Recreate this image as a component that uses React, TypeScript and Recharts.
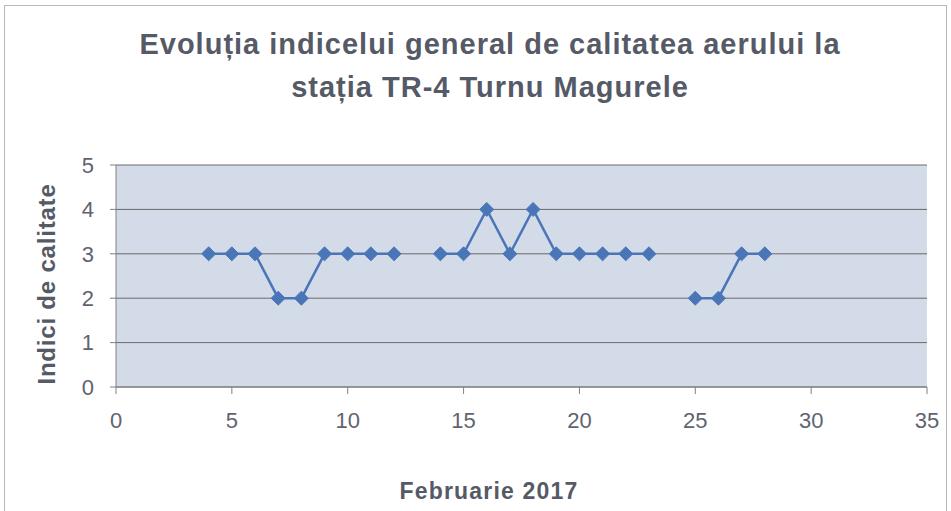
import { LineChart, Line, XAxis, YAxis, CartesianGrid } from 'recharts';

// Februarie 2017, zile cu date (13 si 24 lipsa)
const days = [4, 5, 6, 7, 8, 9, 10, 11, 12, 13, 14, 15, 16, 17, 18, 19, 20, 21, 22, 23, 24, 25, 26, 27, 28];
const indici = [3, 3, 3, 2, 2, 3, 3, 3, 3, null, 3, 3, 4, 3, 4, 3, 3, 3, 3, 3, null, 2, 2, 3, 3];
const xTicks = [0, 5, 10, 15, 20, 25, 30, 35];
const yTicks = [0, 1, 2, 3, 4, 5];

const data = days.map((d, i) => ({ day: d, value: indici[i] }));

const FONT = '"Liberation Sans", Arial, sans-serif';
const TEXT = '#555a66';
const LINE = '#4a76b8';

const Diamond = (props: any) => {
    const { cx, cy, value } = props;
    if (value == null || cx == null || cy == null) return null;
    const r = 7;
    return (
        <polygon
            key={`d-${cx}`}
            points={`${cx},${cy - r} ${cx + r},${cy} ${cx},${cy + r} ${cx - r},${cy}`}
            fill={LINE}
            stroke={LINE}
        />
    );
};

const App = () => {
    return (
        <div style={{ position: 'relative', width: 951, height: 511, background: '#fff', fontFamily: FONT, overflow: 'hidden' }}>
            <style>{'body{margin:0}'}</style>
            <div
                style={{
                    position: 'absolute', left: 4, top: 5, width: 943, height: 520,
                    border: '1px solid #b8b8b8', boxSizing: 'border-box',
                }}
            />
            <div
                style={{
                    position: 'absolute', left: 0, top: 23, width: 980, textAlign: 'center',
                    fontSize: 29, fontWeight: 'bold', color: TEXT, lineHeight: '43px', letterSpacing: 1,
                }}
            >
                Evoluția indicelui general de calitatea aerului la
                <br />
                stația TR-4 Turnu Magurele
            </div>
            <div
                style={{
                    position: 'absolute', left: 47, top: 284, transform: 'translate(-50%, -50%) rotate(-90deg)',
                    whiteSpace: 'nowrap', fontSize: 24, fontWeight: 'bold', color: TEXT, letterSpacing: 0.8,
                }}
            >
                Indici de calitate
            </div>
            <div
                style={{
                    position: 'absolute', left: 489, top: 491, transform: 'translate(-50%, -50%)',
                    whiteSpace: 'nowrap', fontSize: 23, fontWeight: 'bold', color: TEXT, letterSpacing: 1.2,
                }}
            >
                Februarie 2017
            </div>
            <div style={{ position: 'absolute', left: 0, top: 0 }}>
                <LineChart
                    width={951}
                    height={511}
                    data={data}
                    margin={{ top: 165, right: 24, bottom: 74, left: 66 }}
                >
                    <CartesianGrid
                        vertical={false}
                        stroke="#6a6a6a"
                        fill="#d4dbe8"
                        fillOpacity={1}
                    />
                    <XAxis
                        dataKey="day"
                        type="number"
                        domain={[0, 35]}
                        ticks={xTicks}
                        height={50}
                        stroke="#808080"
                        tickSize={7}
                        tickMargin={18}
                        tick={{ fill: '#606470', fontSize: 22, fontFamily: FONT }}
                    />
                    <YAxis
                        type="number"
                        domain={[0, 5]}
                        ticks={yTicks}
                        width={50}
                        stroke="#808080"
                        tickSize={6}
                        tickMargin={16}
                        tick={{ fill: '#606470', fontSize: 22, fontFamily: FONT }}
                    />
                    <Line
                        dataKey="value"
                        stroke={LINE}
                        strokeWidth={2.5}
                        dot={<Diamond />}
                        activeDot={false}
                        connectNulls={false}
                        isAnimationActive={false}
                    />
                </LineChart>
            </div>
        </div>
    );
};

export default App;
